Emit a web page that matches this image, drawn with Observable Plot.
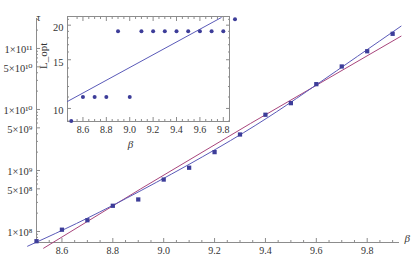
<!DOCTYPE html>
<html><head><meta charset="utf-8">
<script src="https://cdn.jsdelivr.net/npm/d3@7"></script>
<script src="https://cdn.jsdelivr.net/npm/@observablehq/plot@0.6"></script>
<style>
html,body{margin:0;padding:0;background:#fff;}
#wrap{position:relative;width:415px;height:256px;overflow:hidden;}
#wrap svg{position:absolute;left:0;top:0;}
</style></head><body><div id="wrap"></div>
<script>
// ---- data ----
const beta = [8.5, 8.6, 8.7, 8.8, 8.9, 9.0, 9.1, 9.2, 9.3, 9.4, 9.5, 9.6, 9.7, 9.8, 9.9];
const tau = [6.93e7, 1.07e8, 1.53e8, 2.64e8, 3.35e8, 7.1e8, 1.11e9, 2.0e9, 3.89e9, 8.2e9, 1.27e10, 2.6e10, 5.07e10, 9.0e10, 1.74e11];
const Lopt = [9, 11, 11, 11, 19, 11, 19, 19, 19, 19, 19, 19, 19, 19, 21];

const fitBlueBeta = [8.465, 8.799, 9.263, 9.599, 9.933];
const fitBlueTau = [5.74e7, 2.67e8, 3.10e9, 2.52e10, 2.32e11];
const fitRedBeta = [8.528, 8.909, 9.341, 9.933];
const fitRedTau = [5.32e7, 4.98e8, 5.89e9, 1.59e11];

const insetFitBeta = [8.468, 9.782];
const insetFitL = [10.6, 21.3];

const xTicks = [8.6, 8.8, 9.0, 9.2, 9.4, 9.6, 9.8];
const xTickLabels = ["8.6", "8.8", "9.0", "9.2", "9.4", "9.6", "9.8"];
const yTicks = [1e8, 5e8, 1e9, 5e9, 1e10, 5e10, 1e11];
const yTickLabels = ["1×10⁸", "5×10⁸", "1×10⁹", "5×10⁹", "1×10¹⁰", "5×10¹⁰", "1×10¹¹"];
const insetYTicks = [10, 15, 20];
const insetYTickLabels = ["10", "15", "20"];

// ---- helpers ----
const pts = beta.map((b, i) => ({beta: b, tau: tau[i], L: Lopt[i]}));
const blue = fitBlueBeta.map((b, i) => ({beta: b, tau: fitBlueTau[i]}));
const red = fitRedBeta.map((b, i) => ({beta: b, tau: fitRedTau[i]}));
const insetFit = insetFitBeta.map((b, i) => ({beta: b, L: insetFitL[i]}));
const yLab = yTicks.map((t, i) => ({v: t, label: yTickLabels[i]}));
const iyLab = insetYTicks.map((t, i) => ({v: t, label: insetYTickLabels[i]}));

const xMinor = d3.range(8.55, 9.93, 0.05).map(v => +v.toFixed(2)).filter(v => !xTicks.some(t => Math.abs(t - v) < 1e-6));
const yMinor = [];
for (let e = 7; e <= 11; e++) for (const m of [2, 3, 4, 6, 7, 8, 9]) yMinor.push(m * 10 ** e);
const xFmt = v => xTickLabels[xTicks.findIndex(t => Math.abs(t - v) < 1e-6)] ?? "";
const none = () => "";

const AX = "#8c8c8c", TXT = "#333", C1 = "#3d3d99", LBLUE = "#5a5ab8", LRED = "#a8457c";
const font = {fontFamily: "'Liberation Serif', 'DejaVu Serif', serif", fontSize: "10px", color: TXT, background: "transparent", overflow: "visible"};

const yLow = 6.6e7, yHigh = 3.1e11;
const main = Plot.plot({
  width: 415, height: 256,
  marginLeft: 36, marginRight: 16, marginTop: 18, marginBottom: 14,
  style: font,
  x: {domain: [8.5, 9.927], label: null},
  y: {type: "log", domain: [yLow, yHigh], label: null},
  marks: [
    Plot.ruleX([8.5], {stroke: AX}),
    Plot.ruleY([yLow], {stroke: AX}),
    Plot.axisX({anchor: "bottom", ticks: xTicks, tickSize: -4, tickPadding: 8, tickFormat: xFmt, label: null, stroke: AX, fill: TXT}),
    Plot.axisX({anchor: "bottom", ticks: xMinor, tickSize: -2, tickFormat: none, label: null, stroke: AX}),
    Plot.axisY({anchor: "left", ticks: yTicks, tickSize: -4, tickFormat: none, label: null, stroke: AX}),
    Plot.axisY({anchor: "left", ticks: yMinor.filter(v => v > yLow && v < yHigh), tickSize: -2, tickFormat: none, label: null, stroke: AX}),
    Plot.text(yLab, {x: () => 8.5, y: "v", text: "label", textAnchor: "end", dx: -4, dy: 1.5, fontSize: 10.5, fill: TXT}),
    Plot.line(red, {x: "beta", y: "tau", stroke: LRED, strokeWidth: 1}),
    Plot.line(blue, {x: "beta", y: "tau", stroke: LBLUE, strokeWidth: 1, curve: "natural"}),
    Plot.dot(pts, {x: "beta", y: "tau", symbol: "square", r: 2.4, fill: C1, stroke: null}),
    Plot.text(["τ"], {frameAnchor: "top-left", dy: -5, fontSize: 10, fill: TXT}),
    Plot.text(["β"], {frameAnchor: "bottom-right", dx: 5, dy: -1, textAnchor: "start", fontStyle: "italic", fontSize: 11, fill: TXT})
  ]
});

const inset = Plot.plot({
  width: 250, height: 160,
  marginLeft: 67, marginRight: 21, marginTop: 16, marginBottom: 39,
  style: font,
  x: {domain: [8.468, 9.853], label: null},
  y: {type: "log", domain: [8.97, 21.5], label: null},
  marks: [
    Plot.frame({stroke: AX}),
    Plot.axisX({anchor: "bottom", ticks: xTicks, tickSize: -4, tickPadding: 8, tickFormat: xFmt, label: null, stroke: AX, fill: TXT}),
    Plot.axisX({anchor: "bottom", ticks: xMinor.filter(v => v < 9.85), tickSize: -2, tickFormat: none, label: null, stroke: AX}),
    Plot.axisX({anchor: "top", ticks: xTicks, tickSize: -4, tickFormat: none, label: null, stroke: AX}),
    Plot.axisX({anchor: "top", ticks: xMinor.filter(v => v < 9.85), tickSize: -2, tickFormat: none, label: null, stroke: AX}),
    Plot.axisY({anchor: "left", ticks: insetYTicks, tickSize: -4, tickFormat: none, label: null, stroke: AX}),
    Plot.axisY({anchor: "left", ticks: [9, 11, 12, 13, 14, 16, 17, 18, 19, 21], tickSize: -2, tickFormat: none, label: null, stroke: AX}),
    Plot.axisY({anchor: "right", ticks: insetYTicks, tickSize: -4, tickFormat: none, label: null, stroke: AX}),
    Plot.axisY({anchor: "right", ticks: [9, 11, 12, 13, 14, 16, 17, 18, 19, 21], tickSize: -2, tickFormat: none, label: null, stroke: AX}),
    Plot.text(iyLab, {x: () => 8.468, y: "v", text: "label", textAnchor: "end", dx: -4, dy: 2.5, fontSize: 10.5, fill: TXT}),
    Plot.line(insetFit, {x: "beta", y: "L", stroke: LBLUE, strokeWidth: 1, clip: true}),
    Plot.dot(pts, {x: "beta", y: "L", r: 2, fill: C1, stroke: null}),
    Plot.text(["L_opt"], {frameAnchor: "left", dx: -24, rotate: -90, fontSize: 11, fill: TXT}),
    Plot.text(["β"], {frameAnchor: "bottom", dx: -18, dy: 26, fontStyle: "italic", fontSize: 11, fill: TXT})
  ]
});

const wrap = document.getElementById("wrap");
wrap.appendChild(main);
wrap.appendChild(inset);
</script>
</body></html>
